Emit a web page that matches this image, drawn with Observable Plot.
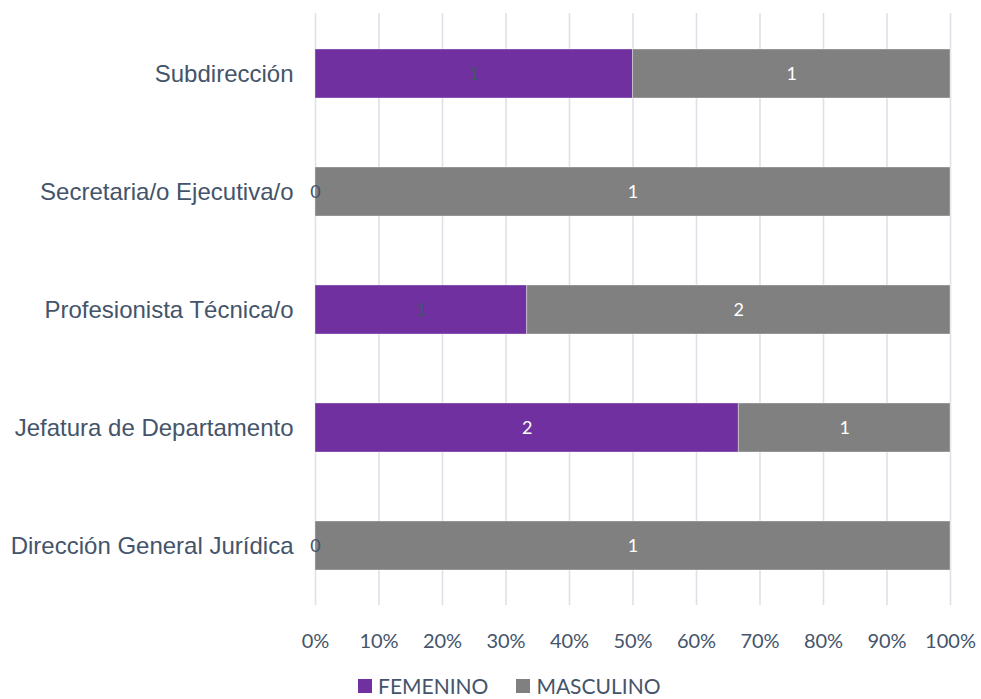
<!DOCTYPE html>
<html>
<head>
<meta charset="utf-8">
<script src="https://cdn.jsdelivr.net/npm/d3@7"></script>
<script src="https://cdn.jsdelivr.net/npm/@observablehq/plot@0.6"></script>
<style>
  body { margin: 0; background: #fff; overflow: hidden; }
  #legend { height: 24px; line-height: 24px; padding-left: 358px; font-family: Lato, "Open Sans", sans-serif; font-size: 21px; color: #44546A; display: flex; align-items: center; }
  #legend span.item { display: inline-flex; align-items: center; margin-right: 28px; }
  #legend span.sw { display: inline-block; width: 14px; height: 14px; margin-right: 6px; }
  g[aria-label="y-axis tick label"] text { font-family: "Liberation Sans", Arial, sans-serif; }
</style>
</head>
<body>
<div id="chart"></div>
<div id="legend"></div>
<script>
const categories = ["Subdirección", "Secretaria/o Ejecutiva/o", "Profesionista Técnica/o", "Jefatura de Departamento", "Dirección General Jurídica"];
const femenino = [1, 0, 1, 2, 0];
const masculino = [1, 1, 2, 1, 1];
const seriesNames = ["FEMENINO", "MASCULINO"];
const seriesColors = ["#7030A0", "#808080"];
const xTicks = [0, 0.1, 0.2, 0.3, 0.4, 0.5, 0.6, 0.7, 0.8, 0.9, 1];

const data = [];
categories.forEach((c, i) => data.push({cat: c, sex: seriesNames[0], count: femenino[i]}));
categories.forEach((c, i) => data.push({cat: c, sex: seriesNames[1], count: masculino[i]}));

const textColor = "#44546A";
const labelFill = d => (d.count === 0 || (d.sex === "FEMENINO" && d.count === 1)) ? textColor : "#ffffff";

const chart = Plot.plot({
  width: 981,
  height: 674,
  marginLeft: 315,
  marginRight: 31,
  marginTop: 13,
  marginBottom: 69,
  x: {domain: [0, 1]},
  y: {domain: categories, paddingInner: 0.586, paddingOuter: 0.293},
  color: {domain: seriesNames, range: seriesColors},
  style: {fontFamily: "Lato, 'Open Sans', sans-serif", color: textColor, background: "#fff"},
  marks: [
    Plot.ruleX(xTicks, {stroke: "#dde2e9", strokeWidth: 1.6}),
    Plot.barX(data, Plot.stackX({x: "count", y: "cat", fill: "sex", offset: "normalize", stroke: "#ffffff", strokeOpacity: 0.35, strokeWidth: 1})),
    Plot.text(data, Plot.stackX({x: "count", y: "cat", z: "sex", offset: "normalize", text: d => String(d.count), fill: labelFill, fontSize: 18})),
    Plot.axisX({ticks: xTicks, tickFormat: d => Math.round(d * 100) + "%", tickSize: 0, tickPadding: 28, fontSize: 20, label: null, fill: textColor}),
    Plot.axisY({tickSize: 0, tickPadding: 22, fontSize: 24, label: null, fill: textColor})
  ]
});
chart.style.display = "block";
document.getElementById("chart").appendChild(chart);

const legend = document.getElementById("legend");
seriesNames.forEach((s, i) => {
  const item = document.createElement("span");
  item.className = "item";
  const sw = document.createElement("span");
  sw.className = "sw";
  sw.style.background = seriesColors[i];
  item.appendChild(sw);
  item.appendChild(document.createTextNode(s));
  legend.appendChild(item);
});
</script>
</body>
</html>
